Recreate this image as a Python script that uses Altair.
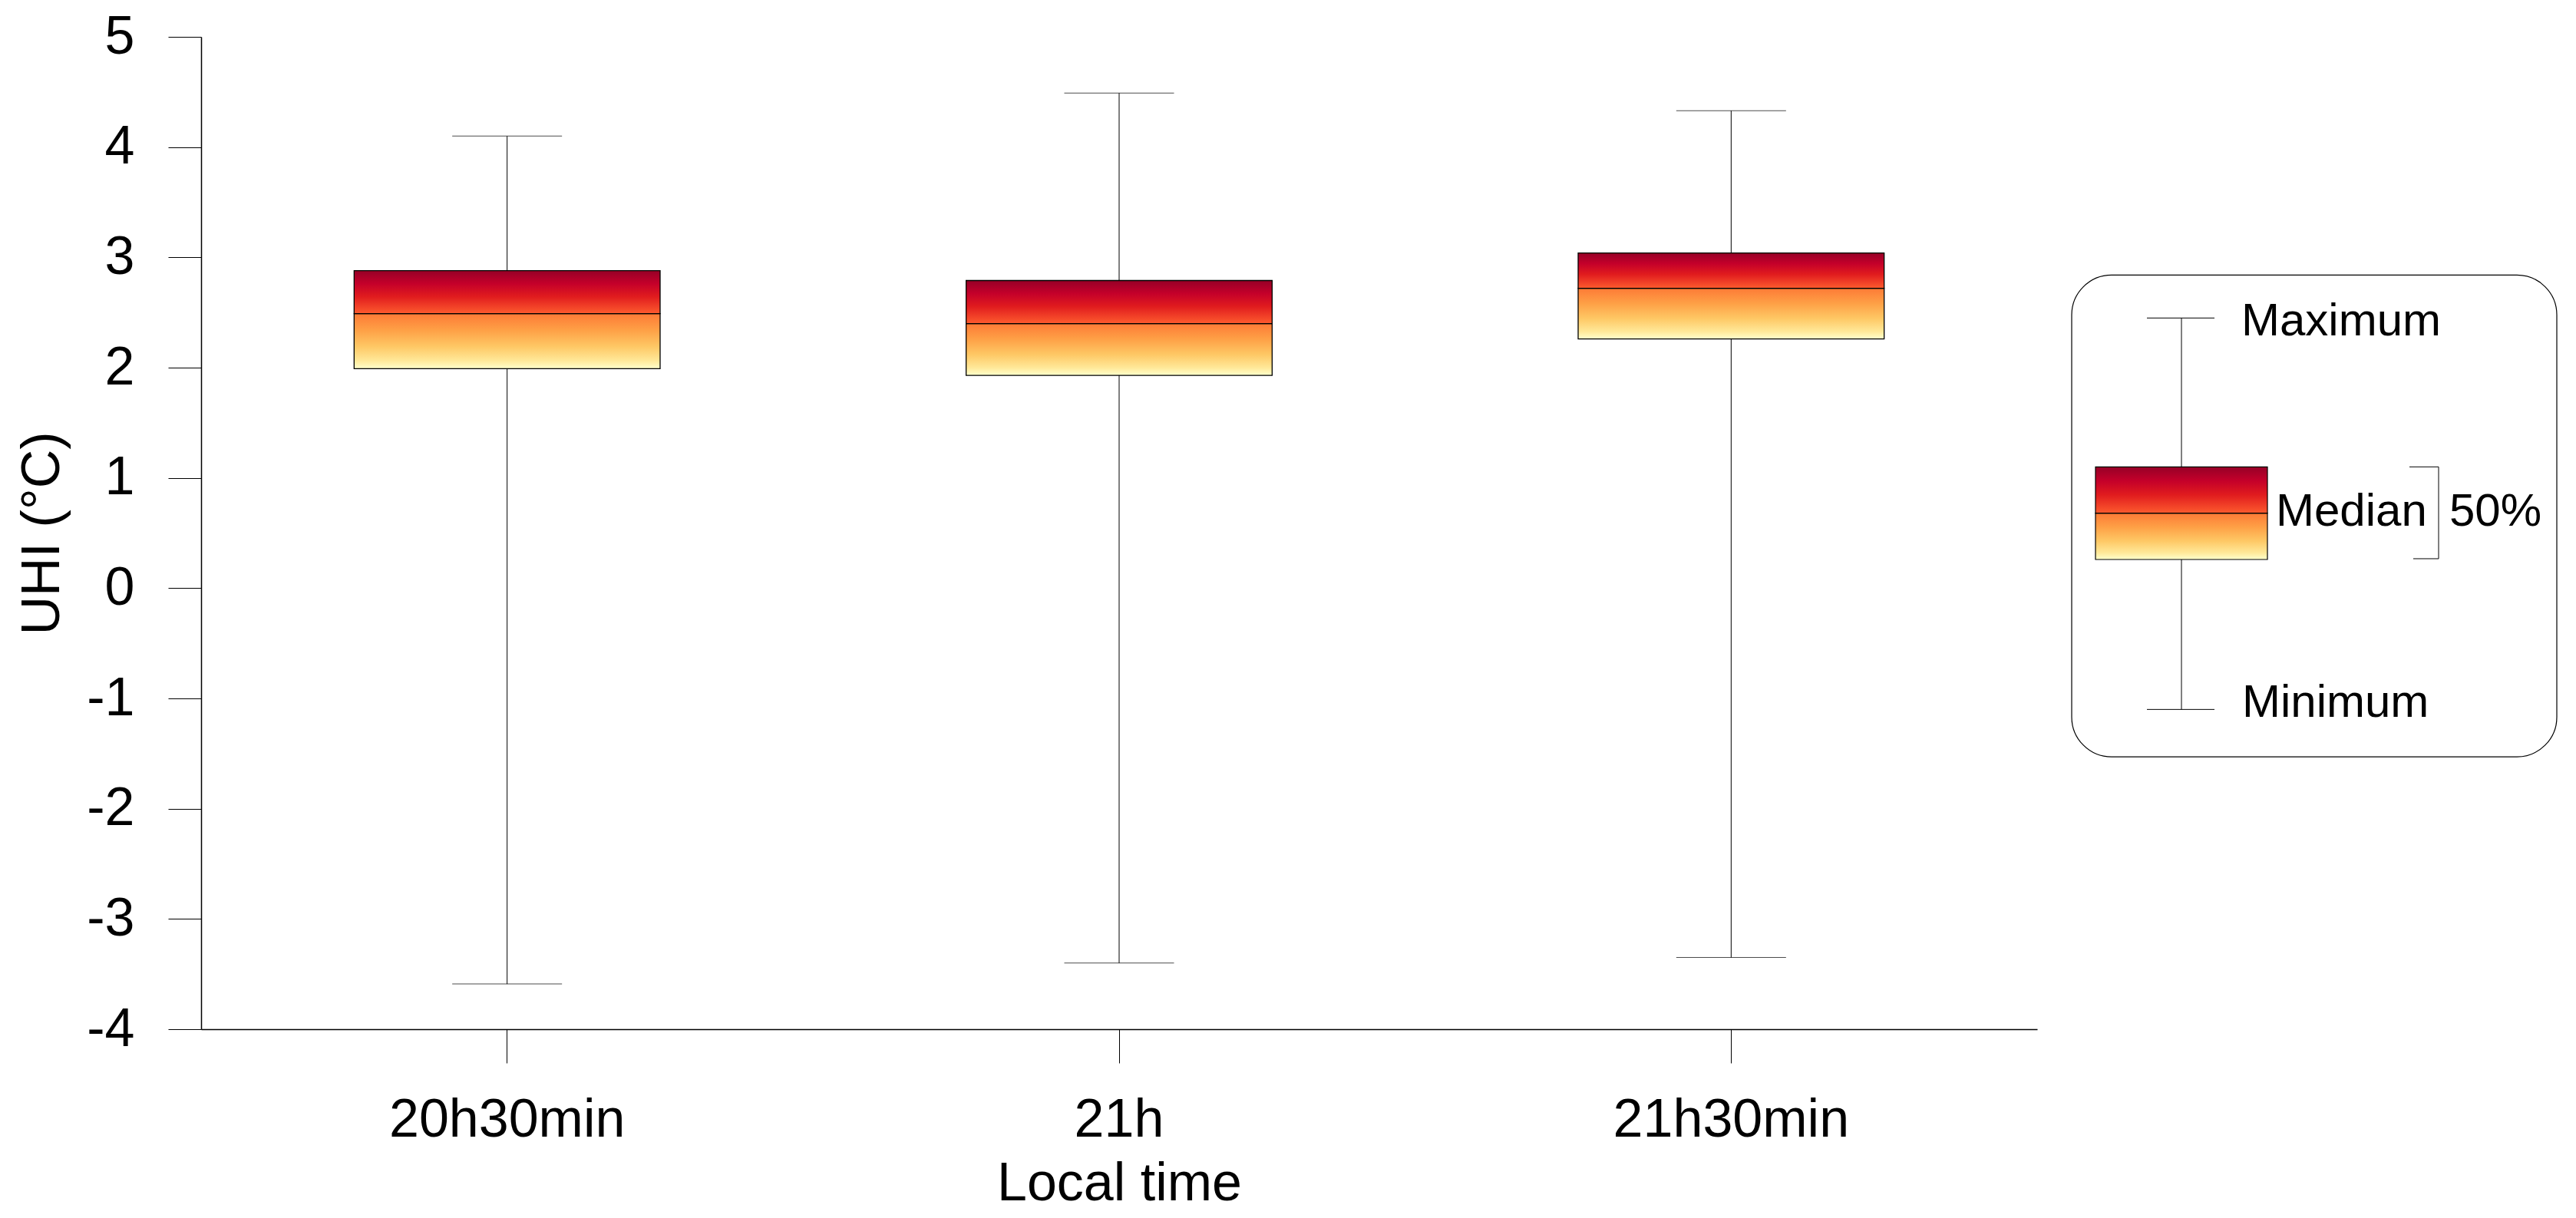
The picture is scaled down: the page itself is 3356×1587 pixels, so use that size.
import altair as alt
import pandas as pd

FONT = "Liberation Sans"

# ---- data ----
times = ["20h30min", "21h", "21h30min"]
uhi_min = [-3.59, -3.40, -3.35]
uhi_q1 = [1.99, 1.93, 2.26]
uhi_median = [2.49, 2.40, 2.72]
uhi_q3 = [2.88, 2.79, 3.04]
uhi_max = [4.10, 4.49, 4.33]
y_ticks = [-4, -3, -2, -1, 0, 1, 2, 3, 4, 5]

# legend sample box (drawn on the same UHI scale)
leg_min, leg_q1, leg_med, leg_q3, leg_max = -1.10, 0.26, 0.68, 1.10, 2.45
leg_labels = ["Maximum", "Median", "50%", "Minimum"]

df = pd.DataFrame(dict(time=times, lo=uhi_min, q1=uhi_q1, med=uhi_median,
                       q3=uhi_q3, hi=uhi_max))

upper_grad = alt.Gradient(
    gradient="linear", x1=0, x2=0, y1=0, y2=1,
    stops=[alt.GradientStop(offset=0.0, color="#960027"),
           alt.GradientStop(offset=0.3, color="#c4002a"),
           alt.GradientStop(offset=0.6, color="#e01b1e"),
           alt.GradientStop(offset=1.0, color="#fd5b2e")])
lower_grad = alt.Gradient(
    gradient="linear", x1=0, x2=0, y1=0, y2=1,
    stops=[alt.GradientStop(offset=0.0, color="#fd7a36"),
           alt.GradientStop(offset=0.3, color="#fea046"),
           alt.GradientStop(offset=0.6, color="#fec865"),
           alt.GradientStop(offset=0.85, color="#ffe898"),
           alt.GradientStop(offset=1.0, color="#ffffcc")])

W, H = 2392, 1293
yscale = alt.Scale(domain=[-4, 5], nice=False, zero=False)

xenc = alt.X("time:N", sort=times,
             scale=alt.Scale(paddingInner=0.5, paddingOuter=0.25),
             axis=alt.Axis(title="Local time", labelAngle=0, tickSize=44,
                           labelPadding=40, titlePadding=14, labelLimit=0))
yaxis = alt.Axis(title="UHI (°C)", values=y_ticks, tickSize=43,
                 labelExpr="'' + datum.value",
                 labelPadding=44, titlePadding=21)

base = alt.Chart(df)
whisk = base.mark_rule(color="black", strokeWidth=1).encode(
    x=xenc, y=alt.Y("lo:Q", scale=yscale, axis=yaxis), y2="hi:Q")
cap_hi = base.mark_tick(color="black", size=143, thickness=1).encode(
    x=xenc, y=alt.Y("hi:Q", scale=yscale))
cap_lo = base.mark_tick(color="black", size=143, thickness=1).encode(
    x=xenc, y=alt.Y("lo:Q", scale=yscale))
box_lo = base.mark_bar(fill=lower_grad, stroke="black", strokeWidth=1.3).encode(
    x=xenc, y=alt.Y("q1:Q", scale=yscale), y2="med:Q")
box_hi = base.mark_bar(fill=upper_grad, stroke="black", strokeWidth=1.3).encode(
    x=xenc, y=alt.Y("med:Q", scale=yscale), y2="q3:Q")

main = alt.layer(whisk, cap_hi, cap_lo, box_lo, box_hi).properties(
    width=W, height=H,
    view=alt.ViewBackground(stroke="black", strokeWidth=1.5))

# ---- legend panel ----
LW = 632
lx = alt.Scale(domain=[0, LW], nice=False, zero=False)

frame_df = pd.DataFrame(dict(x=[0], x2=[LW], y=[-1.53], y2=[2.84]))
frame = alt.Chart(frame_df).mark_rect(cornerRadius=52, fill="white", stroke="black",
                                       strokeWidth=1.2).encode(
    x=alt.X("x:Q", scale=lx, axis=None), x2="x2:Q",
    y=alt.Y("y:Q", scale=yscale, axis=None), y2="y2:Q")

lbox_df = pd.DataFrame(dict(x=[31], x2=[255], xc=[143], lo=[leg_min], q1=[leg_q1],
                            med=[leg_med], q3=[leg_q3], hi=[leg_max]))
lb = alt.Chart(lbox_df)
l_whisk = lb.mark_rule(color="black", strokeWidth=1).encode(
    x=alt.X("xc:Q", scale=lx, axis=None),
    y=alt.Y("lo:Q", scale=yscale, axis=None), y2="hi:Q")
l_lo = lb.mark_rect(fill=lower_grad, stroke="black", strokeWidth=1.2).encode(
    x=alt.X("x:Q", scale=lx, axis=None), x2="x2:Q",
    y=alt.Y("q1:Q", scale=yscale, axis=None), y2="med:Q")
l_hi = lb.mark_rect(fill=upper_grad, stroke="black", strokeWidth=1.2).encode(
    x=alt.X("x:Q", scale=lx, axis=None), x2="x2:Q",
    y=alt.Y("med:Q", scale=yscale, axis=None), y2="q3:Q")

seg_df = pd.DataFrame(dict(
    x=[98, 98, 478, 440, 445],
    x2=[186, 186, 478, 478, 478],
    y=[leg_max, leg_min, leg_q3, leg_q3, 0.267],
    y2=[leg_max, leg_min, 0.267, leg_q3, 0.267]))
segs = alt.Chart(seg_df).mark_rule(color="black", strokeWidth=1).encode(
    x=alt.X("x:Q", scale=lx, axis=None), x2="x2:Q",
    y=alt.Y("y:Q", scale=yscale, axis=None), y2="y2:Q")

txt_df = pd.DataFrame(dict(label=leg_labels, x=[221, 266, 492, 222],
                           y=[2.42, 0.69, 0.69, -1.04]))
txt = alt.Chart(txt_df).mark_text(align="left", baseline="middle", fontSize=60,
                                  font=FONT, color="black").encode(
    x=alt.X("x:Q", scale=lx, axis=None),
    y=alt.Y("y:Q", scale=yscale, axis=None), text="label:N")

legend = alt.layer(frame, l_whisk, l_lo, l_hi, segs, txt).properties(
    width=LW, height=H, view=alt.ViewBackground(strokeOpacity=0))

chart = alt.hconcat(main, legend, spacing=44).resolve_scale(
    x="independent").properties(
    padding={"left": 12, "top": 5, "right": 0, "bottom": 0},
    background="white"
).configure_axis(
    labelFont=FONT, titleFont=FONT, labelFontSize=70, titleFontSize=70,
    labelColor="black", titleColor="black", titleFontWeight="normal",
    domainColor="black", domainWidth=1.5, tickColor="black", tickWidth=1,
    grid=False
).configure_view(strokeOpacity=0)

chart.save("out.html", embed_options={"renderer": "svg", "actions": False})
